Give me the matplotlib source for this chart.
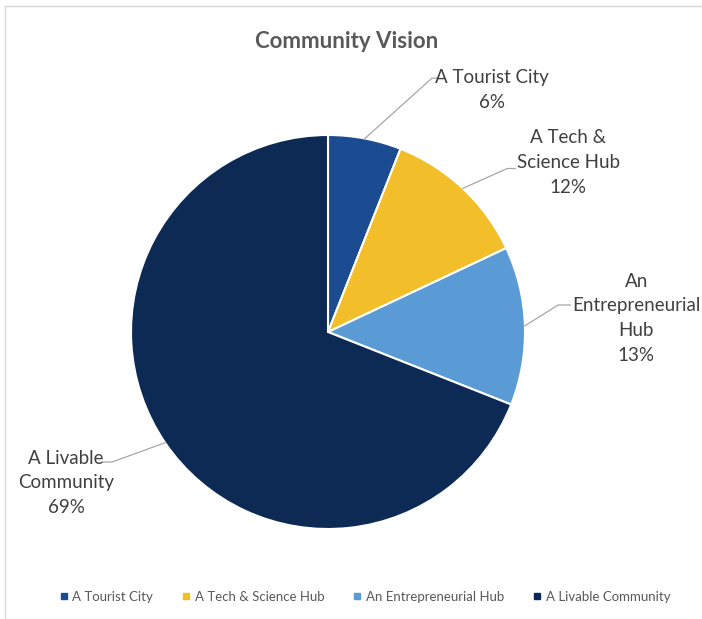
import numpy as np
import matplotlib.pyplot as plt
from matplotlib.lines import Line2D
from matplotlib.patches import Rectangle

plt.rcParams['font.family'] = ['Lato', 'DejaVu Sans']

# Survey shares (percent), clockwise from 12 o'clock
categories = ['A Tourist City', 'A Tech & Science Hub', 'An Entrepreneurial Hub', 'A Livable Community']
shares = [6, 12, 13, 69]
label_text = ['A Tourist City', 'A Tech &\nScience Hub', 'An\nEntrepreneurial\nHub', 'A Livable\nCommunity']
colors = ['#1B4B91', '#F2BF2B', '#5B9BD5', '#0D2A55']

# label placement (data units, pie radius = 1) and leader line elbows
label_pos = [(0.83, 1.23), (1.22, 0.86), (1.565, 0.07), (-1.33, -0.765)]
elbows = [[(0.528, 1.289), (0.555, 1.289)],
          [(0.91, 0.83), (0.95, 0.83)],
          [(1.168, 0.137), (1.23, 0.137)],
          [(-1.096, -0.66), (-1.147, -0.66)]]

fig = plt.figure(figsize=(7.02, 6.19), dpi=100)
ax = fig.add_axes([0, 0, 1, 1])

wedges, _ = ax.pie(shares, colors=colors, startangle=90, counterclock=False,
                   radius=1, center=(0, 0), frame=True,
                   wedgeprops=dict(edgecolor='white', linewidth=1.5))
# 197 px per unit, pie centre at (328, 332) px
ax.set_xlim(-328 / 197, (702 - 328) / 197)
ax.set_ylim(-(619 - 332) / 197, 332 / 197)
ax.set_aspect('auto')
ax.axis('off')

start = 90.0
for val, txt, pos, elb in zip(shares, label_text, label_pos, elbows):
    mid = np.deg2rad(start - val * 3.6 / 2)
    start -= val * 3.6
    xs = [np.cos(mid)] + [p[0] for p in elb]
    ys = [np.sin(mid)] + [p[1] for p in elb]
    ax.plot(xs, ys, color='#A6A6A6', linewidth=0.9)
    ax.text(pos[0], pos[1], f'{txt}\n{val}%', ha='center', va='center',
            fontsize=13.5, color='#404040', linespacing=1.55)

fig.text(347 / 702, 1 - 41 / 619, 'Community Vision', ha='center', va='center',
         fontsize=16, fontweight='bold', color='#595959')

handles = [Line2D([], [], marker='s', linestyle='none', markersize=5,
                  markerfacecolor=c, markeredgecolor=c) for c in colors]
fig.legend(handles, categories, loc='center', bbox_to_anchor=(365 / 702, 1 - 597 / 619),
           ncol=4, frameon=False, fontsize=9.5, labelcolor='#595959',
           handlelength=0.6, handletextpad=0.35, columnspacing=2.2)

# chart area border
fig.patches.append(Rectangle((5 / 702, -0.1), 1.2, 1 - 6 / 619 + 0.1,
                             transform=fig.transFigure, fill=False,
                             edgecolor='#D9D9D9', linewidth=1))

fig.savefig('out.png', dpi=100, facecolor='white')
